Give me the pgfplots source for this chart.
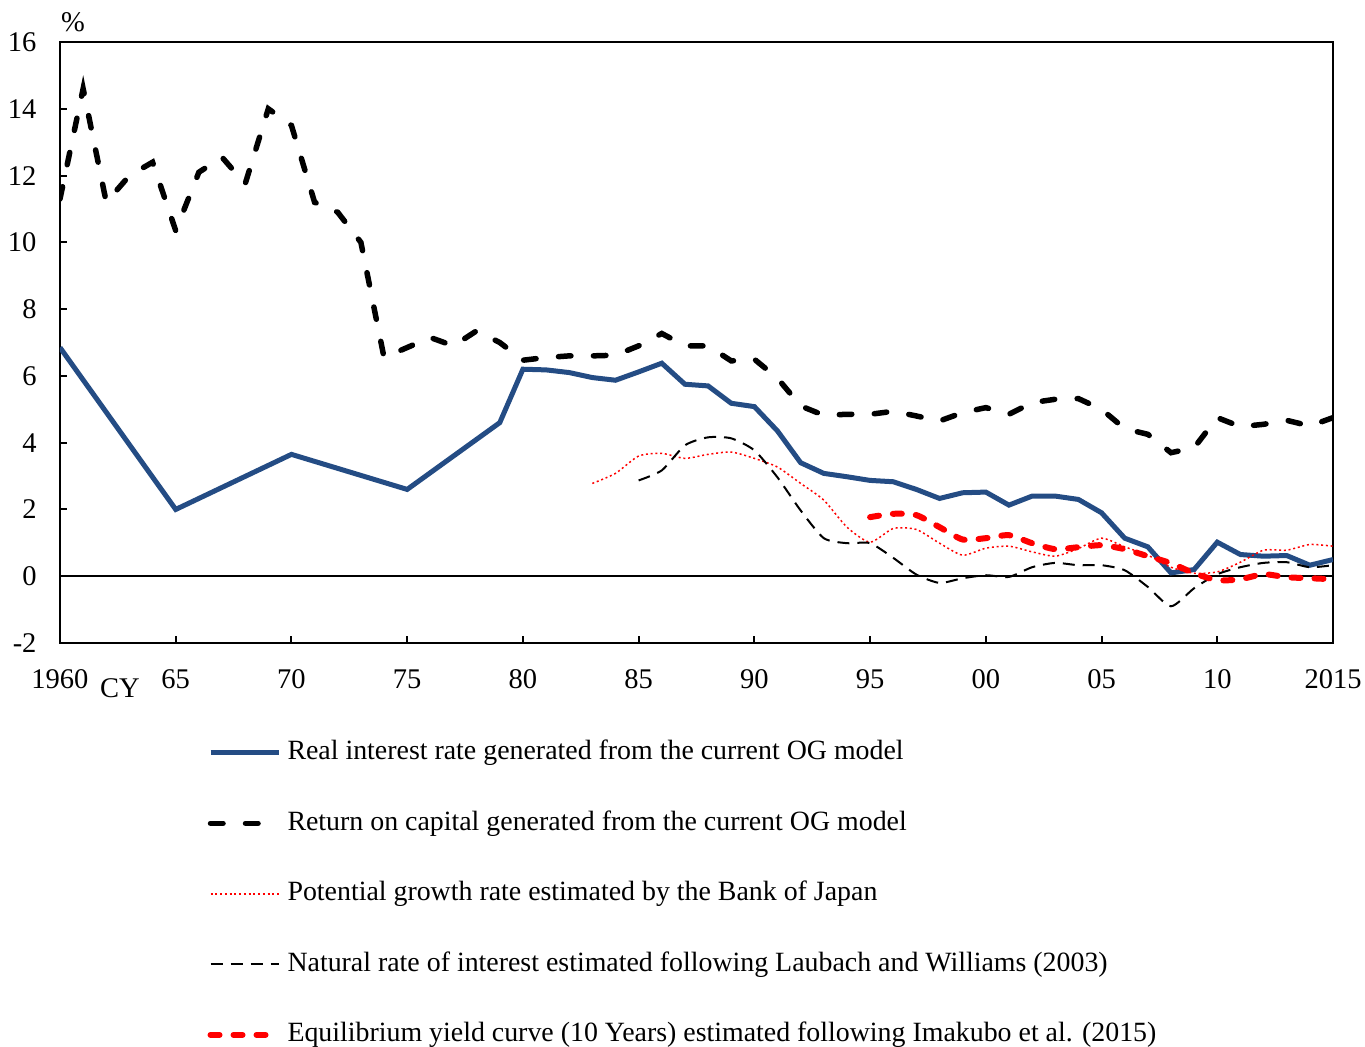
\documentclass[border=0pt]{standalone}
\usepackage{fontspec}
\setmainfont{Liberation Serif}
\usepackage{pgfplots}
\pgfplotsset{compat=1.18}
\definecolor{ogblue}{RGB}{36,76,132}
\begin{document}
\fontsize{11.4}{13.7}\selectfont
\begin{tikzpicture}
\useasboundingbox (-24pt,-161.2pt) rectangle (522pt,257.2pt);
\begin{axis}[
  at={(0,0)}, anchor=south west,
  scale only axis, width=509.2pt, height=240.4pt,
  xmin=1960, xmax=2015, ymin=-2, ymax=16,
  clip mode=individual,
  axis line style={line width=1pt},
  tick align=inside, major tick length=2.8pt,
  every tick/.style={black, line width=0.8pt},
  xtick pos=lower, ytick pos=left,
  xtick={1960,1965,...,2015},
  xticklabels={1960,65,70,75,80,85,90,95,00,05,10,2015},
  ytick={-2,0,...,16},
  yticklabels={-2,0,2,4,6,8,10,12,14,16},
  yticklabel style={xshift=-5.4pt},
  xticklabel style={yshift=-6.6pt},
  legend style={at={(0.1155,-0.1600)}, anchor=north west, draw=none, fill=none,
    inner sep=0pt, column sep=2.4pt, row sep=17.7pt,
    font=\fontsize{11.15}{13.4}\selectfont,
    nodes={inner sep=0pt, text height=8pt, text depth=2.5pt}},
  legend cell align=left,
  legend image code/.code={\draw[#1] (0pt,0pt) -- (27.2pt,0pt);},
]
\addplot[black, line width=0.8pt, forget plot] coordinates {(1960,0) (2015,0)};
\addplot[ogblue, line width=2pt] coordinates {
(1960,6.85)(1965,2.0)(1970,3.65)(1975,2.6)(1979,4.6)(1980,6.2)(1981,6.18)(1982,6.1)(1983,5.95)(1984,5.87)(1985,6.12)(1986,6.38)(1987,5.75)(1988,5.7)(1989,5.18)(1990,5.08)(1991,4.35)(1992,3.4)(1993,3.08)(1994,2.98)(1995,2.87)(1996,2.83)(1997,2.6)(1998,2.33)(1999,2.5)(2000,2.52)(2001,2.13)(2002,2.4)(2003,2.4)(2004,2.3)(2005,1.9)(2006,1.14)(2007,0.88)(2008,0.1)(2009,0.2)(2010,1.02)(2011,0.65)(2012,0.6)(2013,0.62)(2014,0.33)(2015,0.5)};
\addlegendentry{Real interest rate generated from the current OG model}
\addplot[black, line width=2.2pt, line cap=round, dash pattern=on 5pt off 9pt] coordinates {
(1960,11.3)(1961,14.6)(1962,11.2)(1963,12.0)(1964,12.4)(1965,10.35)(1966,12.1)(1967,12.55)(1968,11.75)(1969,14.0)(1970,13.5)(1971,11.2)(1972,10.9)(1973,10.0)(1974,6.55)(1975,6.85)(1976,7.15)(1977,6.9)(1978,7.35)(1979,7.0)(1980,6.47)(1981,6.55)(1982,6.6)(1983,6.6)(1984,6.62)(1985,6.9)(1986,7.27)(1987,6.9)(1988,6.9)(1989,6.45)(1990,6.5)(1991,5.93)(1992,5.1)(1993,4.82)(1994,4.85)(1995,4.85)(1996,4.94)(1997,4.8)(1998,4.65)(1999,4.9)(2000,5.05)(2001,4.85)(2002,5.2)(2003,5.3)(2004,5.32)(2005,5.0)(2006,4.42)(2007,4.25)(2008,3.7)(2009,3.85)(2010,4.75)(2011,4.48)(2012,4.55)(2013,4.67)(2014,4.5)(2015,4.75)};
\addlegendentry{Return on capital generated from the current OG model}
\addplot[red, line width=0.6pt, dash pattern=on 0.8pt off 1.1pt, smooth, tension=0.4] coordinates {
(1983,2.78)(1984,3.08)(1985,3.6)(1986,3.68)(1987,3.53)(1988,3.65)(1989,3.72)(1990,3.53)(1991,3.27)(1992,2.78)(1993,2.28)(1994,1.47)(1995,1.02)(1996,1.43)(1997,1.4)(1998,0.99)(1999,0.63)(2000,0.84)(2001,0.9)(2002,0.73)(2003,0.6)(2004,0.83)(2005,1.14)(2006,0.88)(2007,0.63)(2008,0.27)(2009,0.09)(2010,0.13)(2011,0.42)(2012,0.78)(2013,0.78)(2014,0.95)(2015,0.9)};
\addlegendentry{Potential growth rate estimated by the Bank of Japan}
\addplot[black, line width=0.8pt, dash pattern=on 4.8pt off 3.2pt, smooth, tension=0.4] coordinates {
(1985,2.87)(1986,3.17)(1987,3.92)(1988,4.16)(1989,4.13)(1990,3.77)(1991,2.96)(1992,1.97)(1993,1.14)(1994,0.99)(1995,0.99)(1996,0.55)(1997,0.05)(1998,-0.2)(1999,-0.06)(2000,0.03)(2001,-0.02)(2002,0.27)(2003,0.4)(2004,0.33)(2005,0.33)(2006,0.18)(2007,-0.32)(2008,-0.9)(2009,-0.36)(2010,0.06)(2011,0.27)(2012,0.4)(2013,0.42)(2014,0.27)(2015,0.33)};
\addlegendentry{Natural rate of interest estimated following Laubach and Williams (2003)}
\addplot[red, line width=2.4pt, line cap=round, dash pattern=on 3.6pt off 5.6pt, smooth, tension=0.4] coordinates {
(1995,1.77)(1996,1.87)(1997,1.83)(1998,1.47)(1999,1.1)(2000,1.14)(2001,1.23)(2002,0.99)(2003,0.81)(2004,0.87)(2005,0.93)(2006,0.81)(2007,0.6)(2008,0.39)(2009,0.09)(2010,-0.12)(2011,-0.09)(2012,0.06)(2013,-0.03)(2014,-0.06)(2015,-0.09)};
\addlegendentry{Equilibrium yield curve (10 Years) estimated following Imakubo et al. (2015)}
\end{axis}
\node[inner sep=0pt] at (5.2pt,248.4pt) {\%};
\node[inner sep=0pt] at (24pt,-18pt) {CY};
\end{tikzpicture}
\end{document}
